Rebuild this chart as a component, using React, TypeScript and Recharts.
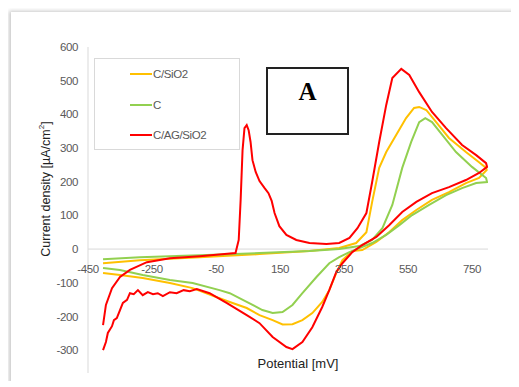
import React from 'react';
import { LineChart, Line, XAxis, YAxis, ReferenceLine, ReferenceDot, Legend } from 'recharts';

// Potential [mV], current density [µA/cm²] pairs, in sweep order
const cSiO2: [number, number][] = [
  [-403, -42], [-288, -33], [-101, -24], [86, -15], [242, -6], [335, 3], [388, 18], [420, 50],
  [438, 140], [460, 241], [482, 288], [513, 339], [544, 389], [569, 419], [585, 422], [607, 413],
  [638, 377], [678, 330], [731, 288], [772, 258], [794, 241], [796, 235],
  [772, 211], [731, 196], [678, 169], [625, 146], [576, 116], [532, 86], [491, 50], [451, 21],
  [407, -3], [376, -6], [345, -33], [326, -71], [304, -122], [282, -157], [251, -190], [220, -211],
  [189, -223], [158, -224], [127, -211], [86, -196], [46, -175], [-7, -157], [-39, -146],
  [-123, -116], [-194, -101], [-279, -86], [-350, -77], [-403, -71],
];

const cOnly: [number, number][] = [
  [-403, -30], [-288, -24], [-101, -18], [86, -12], [242, -6], [335, 0], [398, 9], [438, 27],
  [470, 62], [501, 131], [532, 241], [560, 318], [585, 377], [604, 389], [625, 377], [657, 339],
  [700, 288], [750, 244], [794, 211], [797, 199],
  [763, 196], [719, 181], [669, 160], [616, 131], [563, 101], [523, 71], [482, 42], [438, 18],
  [398, 3], [367, -9], [335, -24], [304, -42], [264, -83], [220, -131], [189, -166], [158, -187],
  [127, -190], [95, -181], [46, -157], [-7, -131], [-39, -122], [-123, -101], [-194, -92],
  [-279, -77], [-350, -62], [-403, -56],
];

const cAgSiO2: [number, number][] = [
  [-403, -226], [-394, -166], [-375, -116], [-350, -83], [-319, -62], [-266, -39], [-194, -27],
  [-101, -21], [-23, -15], [11, -12], [21, 27], [27, 146], [33, 294], [39, 359], [46, 368],
  [52, 353], [58, 318], [64, 264], [74, 229], [86, 202], [102, 181], [114, 166], [124, 143],
  [133, 107], [148, 68], [170, 42], [201, 27], [242, 18], [295, 15], [335, 18], [367, 33],
  [392, 62], [420, 107], [438, 199], [460, 318], [482, 428], [501, 508], [529, 535], [554, 517],
  [585, 466], [625, 407], [669, 359], [719, 309], [763, 279], [794, 255], [797, 244],
  [772, 226], [731, 205], [678, 184], [625, 166], [576, 140], [532, 110], [491, 71], [451, 36],
  [407, 12], [376, -9], [345, -42], [326, -68], [304, -122], [282, -172], [251, -232],
  [220, -276], [189, -297], [170, -291], [127, -261], [86, -220], [46, -196], [-17, -160],
  [-70, -131], [-110, -119], [-132, -125], [-151, -122], [-173, -131], [-194, -128],
  [-216, -140], [-232, -131], [-247, -134], [-263, -128], [-279, -137], [-294, -122],
  [-307, -134], [-319, -131], [-328, -151], [-341, -160], [-350, -181], [-360, -205],
  [-369, -211], [-375, -229], [-388, -249], [-394, -276], [-403, -300],
];

const seriesNames = ['C/SiO2', 'C', 'C/AG/SiO2'];
const seriesColors = ['#FFC000', '#92D050', '#FF0000'];
const seriesData = [cSiO2, cOnly, cAgSiO2];

const xTicks = [-450, -250, -50, 150, 350, 550, 750];
const yTicks = [-300, -200, -100, 0, 100, 200, 300, 400, 500, 600];

const TICKFONT = "'Liberation Sans Narrow', 'Liberation Sans', Arial, sans-serif";
const SANS = "'Liberation Sans', Arial, sans-serif";

const LegendBox = (props: any) => {
  const payload = [...(props.payload || [])].sort(
    (a: any, b: any) => seriesNames.indexOf(a.value) - seriesNames.indexOf(b.value)
  );
  return (
    <div style={{ width: 146, height: 92, border: '1px solid #d9d9d9', boxSizing: 'border-box', background: '#fff' }}>
      {payload.map((p: any, i: number) => (
        <div key={i} style={{ display: 'flex', alignItems: 'center', height: 30.5, marginLeft: 35 }}>
          <span style={{ display: 'inline-block', width: 22, height: 2, background: p.color }} />
          <span style={{ marginLeft: 1, fontFamily: TICKFONT, fontSize: 11.5, letterSpacing: -0.4, color: '#595959' }}>{p.value}</span>
        </div>
      ))}
    </div>
  );
};

export default function App() {
  const series = seriesData.map((arr, i) => ({
    name: seriesNames[i],
    color: seriesColors[i],
    data: arr.map(([x, y]) => ({ x, y })),
  }));
  const tickStyle = { fill: '#595959', fontSize: 11.5, fontFamily: TICKFONT, letterSpacing: -0.4 };
  return (
    <div style={{ position: 'relative', left: 3, top: 4, width: 508, height: 373, background: '#fff', boxShadow: '-2px -1px 4px rgba(0,0,0,0.22)' }}>
      <LineChart width={508} height={373} margin={{ top: 35, right: 31, bottom: 12, left: 0 }}>
        <XAxis type="number" dataKey="x" domain={[-450, 800]} hide allowDataOverflow />
        <YAxis
          type="number"
          domain={[-368, 600]}
          ticks={yTicks}
          interval={0}
          width={77}
          tickLine={false}
          tickSize={0}
          tickMargin={10}
          axisLine={{ stroke: '#d9d9d9' }}
          tick={tickStyle}
          allowDataOverflow
        />
        <ReferenceLine y={0} stroke="#d9d9d9" strokeWidth={1} />
        {xTicks.map((t) => (
          <ReferenceDot
            key={t}
            x={t}
            y={0}
            r={0}
            fill="none"
            stroke="none"
            label={{ value: String(t), position: 'bottom', offset: 16, ...tickStyle }}
          />
        ))}
        <Legend
          layout="vertical"
          align="center"
          verticalAlign="middle"
          wrapperStyle={{ left: 83, top: 46, width: 146, height: 92 }}
          content={(p: any) => <LegendBox payload={p.payload} />}
        />
        {series.map((s) => (
          <Line
            key={s.name}
            name={s.name}
            data={s.data}
            dataKey="y"
            type="linear"
            stroke={s.color}
            strokeWidth={2}
            dot={false}
            activeDot={false}
            isAnimationActive={false}
          />
        ))}
      </LineChart>
      <div style={{ position: 'absolute', left: 255, top: 55, width: 83, height: 68, border: '2px solid #222', boxSizing: 'border-box', background: '#fff' }}>
        <div style={{ position: 'absolute', left: 0, right: 0, top: 9.6, textAlign: 'center', fontFamily: "'Liberation Serif', 'Times New Roman', serif", fontWeight: 'bold', fontSize: 25, lineHeight: 1, color: '#000' }}>A</div>
      </div>
      <div style={{ position: 'absolute', left: 287, top: 351, transform: 'translate(-50%, -50%)', whiteSpace: 'nowrap', fontFamily: SANS, fontSize: 13, color: '#222' }}>
        Potential [mV]
      </div>
      <div style={{ position: 'absolute', left: 34, top: 177, transform: 'translate(-50%, -50%) rotate(-90deg)', whiteSpace: 'nowrap', fontFamily: SANS, fontSize: 12.5, color: '#222' }}>
        Current density [µA/cm<sup style={{ fontSize: 8 }}>2</sup>]
      </div>
    </div>
  );
}
